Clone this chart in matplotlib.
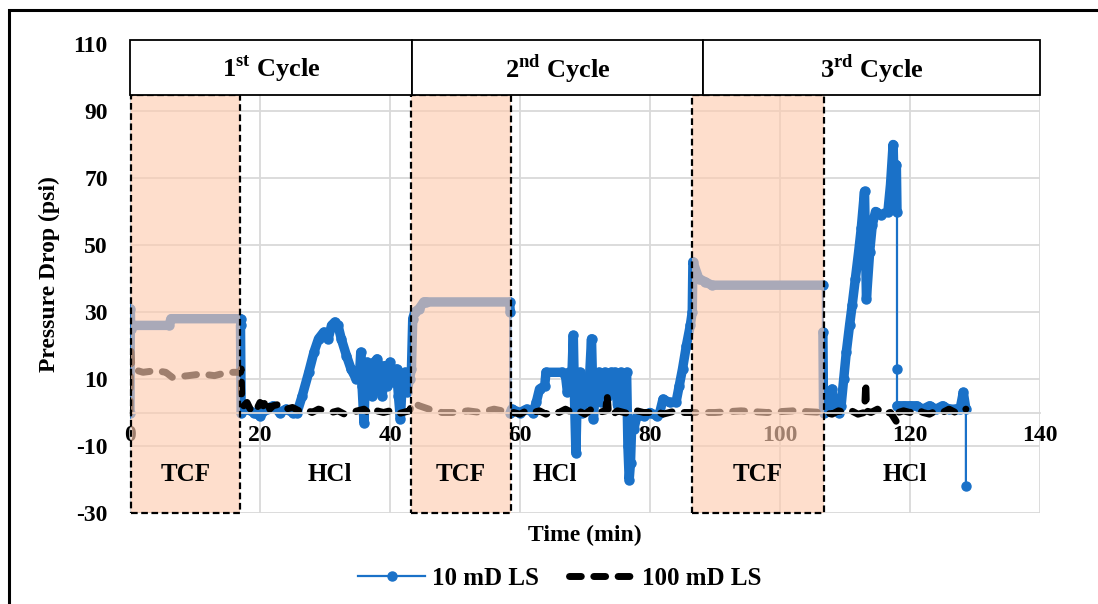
import numpy as np
import matplotlib
matplotlib.use("Agg")
import matplotlib.pyplot as plt
from matplotlib.patches import Rectangle

plt.rcParams['font.family'] = ['Liberation Serif', 'DejaVu Serif']
plt.rcParams['font.weight'] = 'bold'
plt.rcParams['axes.labelweight'] = 'bold'
plt.rcParams['axes.unicode_minus'] = False
plt.rcParams['mathtext.fontset'] = 'custom'
plt.rcParams['mathtext.rm'] = 'Liberation Serif:bold'
plt.rcParams['mathtext.bf'] = 'Liberation Serif:bold'

# ---- data (time in min, pressure drop in psi) ----
# repeated time values mark instantaneous jumps
ls10_t = [0, 0.05, 0.1, 0.3, 6.0, 6.3, 17.0, 17.0,
          17.1, 18, 19, 20, 21, 22, 23, 24, 25, 25.7, 26.5, 27.5, 28.3, 29, 29.8, 30.5, 31,
          31.5, 32, 32.5, 33.3, 34, 34.8, 35.3, 35.5, 35.7, 36, 36.2, 36.5, 37, 37.3, 37.6,
          38, 38.5, 38.8, 39.2, 39.6, 40, 40.5, 41, 41.3, 41.6, 41.9, 42.3, 42.6, 43.0, 43.3,
          43.5, 43.8, 44.5, 45.2, 45.6, 58.4, 58.5, 58.5,
          58.7, 60, 61, 62, 62.5, 63, 63.8, 64, 66.5, 67, 67.3, 67.6, 68.0, 68.2, 68.4, 68.6,
          68.8, 69.2, 69.6, 70, 70.5, 71, 71.3, 71.6, 72.1, 72.5, 73, 73.5, 74, 74.6, 75, 75.5,
          76, 76.4, 76.6, 76.8, 77, 77.2, 77.5, 78, 79, 80, 81, 81.5, 82, 83, 84, 84.5, 85,
          85.6, 86.2, 86.5,
          86.6, 87.5, 88.5, 89.5, 106.6, 106.6, 106.7,
          107, 107.6, 108, 108.4, 109, 109.4, 109.8, 110.2, 110.7, 111.1, 111.6, 112.1, 112.5,
          113, 113.3, 113.8, 114.2, 114.7, 115.5, 116.6, 117.0, 117.4, 117.6, 117.9, 118.0,
          118.0, 118.0, 119, 120, 121, 122, 123, 124, 125, 126, 127, 127.7, 128.2, 128.6, 128.6]
ls10_p = [0, 31, 25, 26, 26, 28, 28, 26,
          0, 1, 0, -1, 1, 2, 0, 1, 0, 0, 5, 12, 18, 22, 24, 22, 26,
          27, 26, 22, 17, 13, 10, 11, 18, 8, -3, 10, 15, 14, 5, 15,
          16, 12, 5, 14, 8, 15, 9, 13, 5, -2, 10, 12, 6, 10, 13,
          28, 30, 31, 33, 33, 33, 30, 0,
          1, 0, 1, 0, 3, 7, 8, 12, 12, 11, 6, 12, 12, 23, 3, -12,
          5, 12, 0, 10, 3, 22, -2, 8, 12, 3, 12, 5, 12, 12, 2, 12,
          8, 12, -10, -20, -15, -3, -5, -1, -1, 0, -1, 0, 4, 3, 3, 8, 13,
          20, 26, 30,
          45, 40, 39, 38, 38, 24, 0,
          1, 2, 7, 1, 0, 2, 10, 18, 26, 32, 40, 48, 55,
          66, 34, 48, 56, 60, 59, 60, 68, 80, 65, 74, 60,
          13, 2, 2, 2, 2, 1, 2, 1, 2, 1, 1, 1, 6, 1, -22]

ls100_t = [0, 0.1, 0.3, 2, 4, 5.5, 6.5, 9, 11, 13, 15, 17, 17.1,
           17.2, 17.5, 18, 18.5, 19, 19.5, 20, 20.5, 21, 21.5, 22, 23, 24, 25, 26, 27, 28, 29,
           30, 31, 32, 33, 34, 35, 36, 37, 38, 39, 40, 41, 42, 43,
           43.5, 44.5, 46, 48, 50, 52, 54, 56, 58.5,
           59, 60, 61, 62, 63, 64, 65, 66, 67, 68, 69, 70, 71, 72, 73.2, 73.4, 73.6, 74, 75,
           76, 77, 78, 79, 80, 81, 82, 83, 84, 85, 86.5,
           90, 94, 98, 102, 106.6,
           107, 108, 109, 110, 111, 112, 113, 113.2, 113.3, 114, 115, 116, 117, 118, 118.2,
           119, 120, 121, 122, 123, 124, 125, 126, 127, 128, 128.6]
ls100_p = [0, 20, 13, 12, 12.5, 12, 10.5, 11, 11.5, 11, 12, 12, 13,
           3, 2, 3, 1, 2, 1, 3, 2, 4, 1, 2, 2.5, 1, 1.5, 0.5, 1, 0, 1,
           0.5, 0, 0.5, -0.5, 0, 0.5, 1, -0.5, 0.5, 0, 0.5, -0.5, 0, 0.5,
           3, 2, 1, 0, 0, 0.5, 0, 1, 0,
           0, -0.5, 0.5, 0, 0.5, -0.5, 0.5, 0, 1, 0, 0.5, -0.5, 1, 0, 0.5, 5.5, 0, -1, 0.5,
           0, -0.5, 0.5, 0, 0, 0.5, -0.5, 0, 0.5, 0, 0,
           0, 0.5, 0, 0.5, 0,
           0, -0.5, 0.5, 0, 0.5, -0.5, 0, 9, 0.5, 0, 1, -0.5, 0, -3, 0,
           0.5, 0, 1, 0, -0.5, 0.5, 0, 1, 0, 0, 1]

tcf_start = [0.15, 43.3, 86.4]
tcf_end = [16.9, 58.6, 106.7]
cycle_edges = [0, 43.4, 88.2, 140]
cycle_labels = [r'1$^{\mathrm{st}}$ Cycle', r'2$^{\mathrm{nd}}$ Cycle', r'3$^{\mathrm{rd}}$ Cycle']
hcl_pos = [30.8, 65.4, 119.2]

blue = '#1A71C8'
grid_c = '#D9D9D9'

fig = plt.figure(figsize=(10.98, 6.04), dpi=100)
ax = fig.add_axes([130 / 1098, 1 - 513 / 604, 910 / 1098, 469 / 604])

# outer frame
fig.patches.append(Rectangle((9 / 1098, -0.05), 1.2, (604 - 10) / 604 + 0.05,
                             transform=fig.transFigure, fill=False, lw=2.2, ec='black'))

# 10 mD LS: thick band where samples are dense, thin line + markers everywhere
t = np.array(ls10_t, dtype=float)
p = np.array(ls10_p, dtype=float)
brk = np.where(np.diff(t) == 0)[0] + 1
ax.plot(np.insert(t, brk, np.nan), np.insert(p, brk, np.nan), color=blue, lw=6.8,
        solid_capstyle='round', solid_joinstyle='round', zorder=2)
ax.plot(t, p, color=blue, lw=1.6, marker='o', ms=6.5, zorder=2.1, label='10 mD LS')

ax.plot(ls100_t, ls100_p, color='black', lw=5.0, ls=(0, (1.7, 1.8)),
        dash_capstyle='round', zorder=2.2, label='100 mD LS')

# shaded TCF windows
for a, b in zip(tcf_start, tcf_end):
    ax.add_patch(Rectangle((a, -30), b - a, 94.8 + 30, facecolor='#FECBAF', alpha=0.63,
                           edgecolor='none', zorder=3, clip_on=False))
    ax.add_patch(Rectangle((a, -30), b - a, 94.8 + 30, fill=False, edgecolor='black',
                           lw=1.6, ls=(0, (3, 1.6)), zorder=3.1, clip_on=False))
    ax.text((a + b) / 2, -18.4, 'TCF', ha='center', va='center', fontsize=18, zorder=6)

for x in hcl_pos:
    ax.text(x, -18.4, 'HCl', ha='center', va='center', fontsize=18, zorder=6)

# cycle header boxes
for i, lab in enumerate(cycle_labels):
    a, b = cycle_edges[i], cycle_edges[i + 1]
    ax.add_patch(Rectangle((a, 94.8), b - a, 111.2 - 94.8, facecolor='white',
                           edgecolor='black', lw=1.3, zorder=5, clip_on=False))
    ax.text((a + b) / 2, 102.8, lab, ha='center', va='center', fontsize=19, zorder=6)

ax.set_xlim(0, 140)
ax.set_ylim(-30, 110)
ax.set_xticks(np.arange(0, 141, 20))
ax.set_yticks(np.arange(-30, 111, 20))
ax.grid(True, color=grid_c, lw=1.3)
ax.set_axisbelow(True)
for s in ['top', 'right', 'left']:
    ax.spines[s].set_visible(False)
ax.spines['bottom'].set_position(('data', 0))
ax.spines['bottom'].set_color(grid_c)
ax.spines['bottom'].set_linewidth(1.3)
ax.tick_params(axis='both', length=0, labelsize=17)
ax.tick_params(axis='x', pad=9)
ax.tick_params(axis='y', pad=16)

ax.set_xlabel('Time (min)', fontsize=17, fontweight='bold')
ax.xaxis.set_label_coords(0.5, -0.025)
ax.set_ylabel('Pressure Drop (psi)', fontsize=17, fontweight='bold')
ax.yaxis.set_label_coords(-0.077, 0.51)

fig.legend(loc='center', bbox_to_anchor=(0.51, 0.043), ncol=2, frameon=False,
           fontsize=18, handlelength=2.7, handletextpad=0.25, columnspacing=1.2,
           numpoints=1)

fig.savefig('out.png', dpi=100)
